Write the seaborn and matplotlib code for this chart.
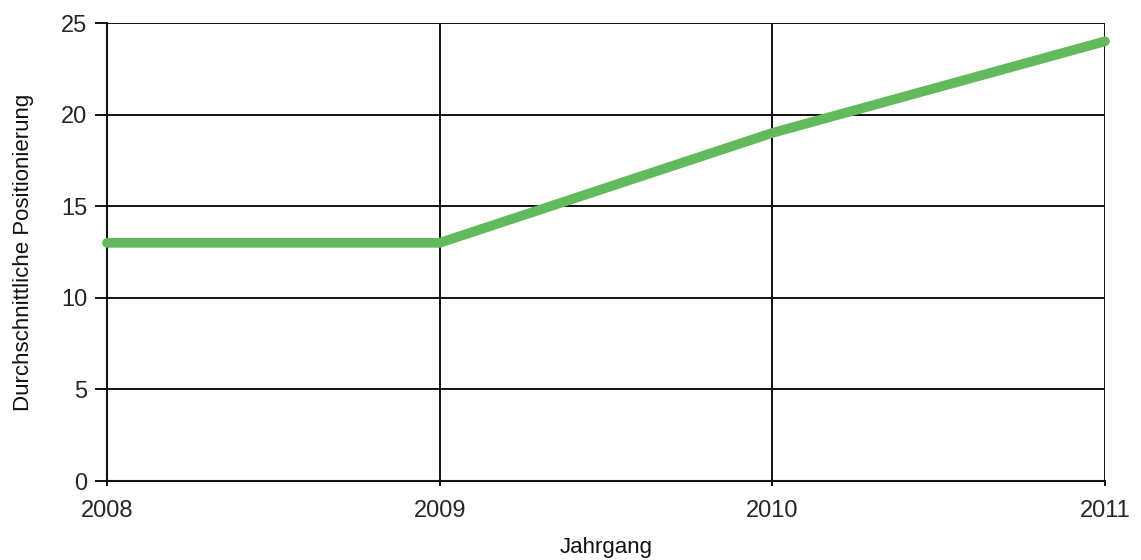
import matplotlib
matplotlib.use("Agg")
import matplotlib.pyplot as plt
import seaborn as sns
import pandas as pd

years = [2008, 2009, 2010, 2011]
positions = [13, 13, 19, 24]
y_ticks = [0, 5, 10, 15, 20, 25]

sns.set_style("white")
plt.rcParams['font.family'] = ['Liberation Sans', 'DejaVu Sans']

df = pd.DataFrame({"Jahrgang": years, "Position": positions})

fig = plt.figure(figsize=(11.41, 5.6), dpi=100)
ax = fig.add_axes([107 / 1141, 1 - 481 / 560, (1105 - 107) / 1141, (481 - 23) / 560])

sns.lineplot(data=df, x="Jahrgang", y="Position", ax=ax, color="#63BA5C",
             linewidth=7, solid_capstyle="round", zorder=3, clip_on=False)

ax.set_xlim(years[0], years[-1])
ax.set_ylim(y_ticks[0], y_ticks[-1])
ax.set_xticks(years)
ax.set_xticklabels([str(y) for y in years])
ax.set_yticks(y_ticks)
ax.grid(True, color="#111111", linewidth=1.4)
ax.set_axisbelow(True)
for side in ["top", "right"]:
    ax.spines[side].set_visible(False)
for side in ["left", "bottom"]:
    ax.spines[side].set_color("#111111")
    ax.spines[side].set_linewidth(1.5)
ax.tick_params(axis="y", direction="out", length=9, width=1.4, color="#111111",
               labelsize=17, pad=5, left=True)
ax.tick_params(axis="x", direction="out", length=3.5, width=1.4, color="#111111",
               labelsize=17, pad=10, bottom=True)

ax.set_xlabel("Jahrgang", fontsize=16, labelpad=11, color="#111111")
ax.set_ylabel("Durchschnittliche Positionierung", fontsize=16, labelpad=20, color="#111111")

fig.savefig("out.png", dpi=100)
